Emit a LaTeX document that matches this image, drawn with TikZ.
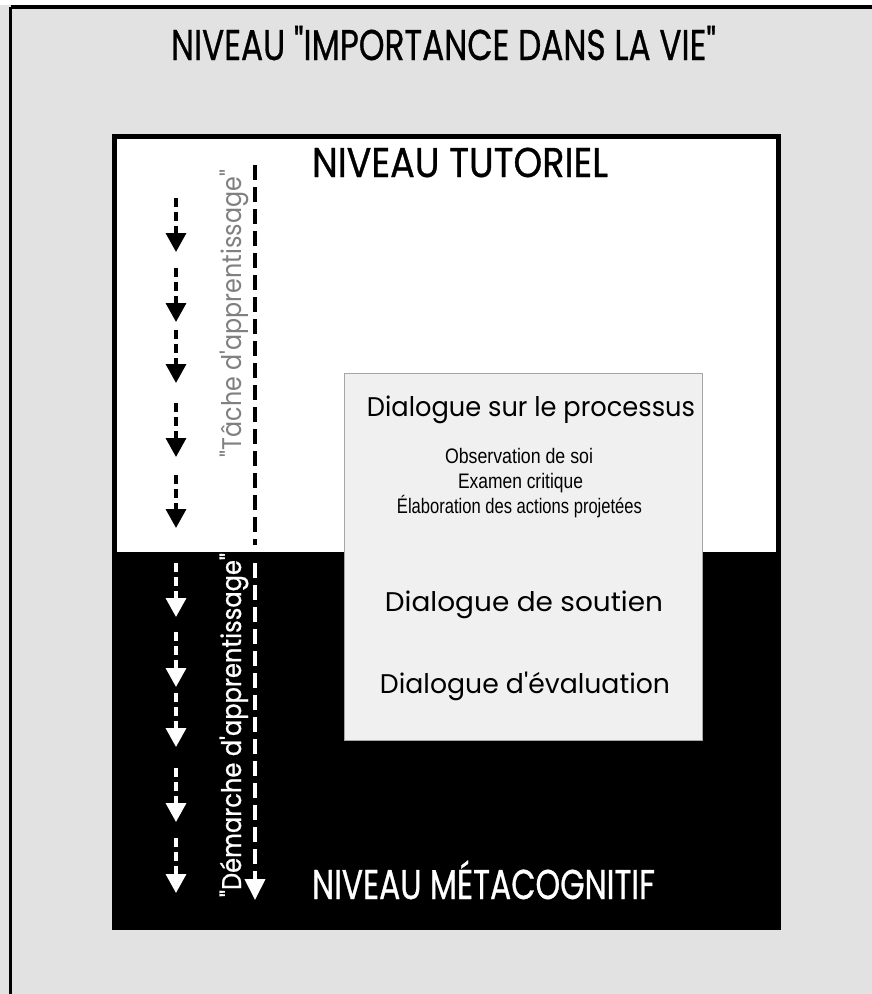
\documentclass[tikz,border=0pt]{standalone}
\usepackage{fontspec}
\usepackage{graphicx}
\usetikzlibrary{arrows.meta}
\newfontfamily\geo{Poppins}
\newfontfamily\geob[FakeBold=0.9]{Poppins}
\newfontfamily\nar{Liberation Sans}
\definecolor{bggray}{HTML}{E2E2E2}
\definecolor{boxgray}{HTML}{F0F0F0}
\definecolor{txtgray}{HTML}{808080}
\newcommand{\fitw}[3]{\resizebox{#1}{\height}{\fontsize{#2}{#2}\selectfont #3}}
\tikzset{
  lbl/.style={inner sep=0pt, outer sep=0pt, anchor=base},
  smallarrow/.style={line width=3.5pt, dash pattern=on 9pt off 5pt, -{Triangle[width=20pt,length=19pt]}},
  longdash/.style={line width=4pt, dash pattern=on 15pt off 7pt},
}
\begin{document}
\begin{tikzpicture}[x=1pt,y=-1pt]
\useasboundingbox (0,0) rectangle (872,994);
% background
\fill[bggray] (0,0) rectangle (872,994);
\fill[white] (0,0) rectangle (872,5);
\draw[line width=4pt] (10.5,7) -- (872,7);
\draw[line width=3.5pt] (10.5,7) -- (10.5,994);
% inner box
\fill[white] (112,134) rectangle (781,552);
\fill[black] (112,552) rectangle (781,930);
\draw[line width=5pt] (114.5,136.5) rectangle (778.5,927.5);
% light box
\fill[boxgray, draw=black!35, line width=0.8pt] (344,373) rectangle (702,740);

% titles
\node[lbl] (title) at (443.5,60) {\fitw{545pt}{43}{\geob NIVEAU "IMPORTANCE DANS LA VIE"}};
\node[lbl] (tut) at (460,177) {\fitw{296pt}{41.6}{\geob NIVEAU TUTORIEL}};
\node[lbl, text=white] (meta) at (483.5,899) {\fitw{343pt}{41.6}{\geob NIVEAU MÉTACOGNITIF}};

% dialogues
\node[lbl] (proc) at (531,416) {\fitw{328pt}{27}{\geo Dialogue sur le processus}};
\node[lbl] (obs) at (519,463) {\fitw{148pt}{21}{\nar Observation de soi}};
\node[lbl] (exa) at (520.5,488) {\fitw{125pt}{21}{\nar Examen critique}};
\node[lbl] (ela) at (519.5,513) {\fitw{245pt}{21}{\nar Élaboration des actions projetées}};
\node[lbl] (sout) at (524,611) {\fitw{278pt}{27}{\geo Dialogue de soutien}};
\node[lbl] (eval) at (525,693) {\fitw{290pt}{27}{\geo Dialogue d'évaluation}};

% rotated labels
\node[lbl, rotate=90, text=txtgray] (tache) at (241,313.5) {\fitw{287pt}{27}{\geo "Tâche d'apprentissage"}};
\node[lbl, rotate=90, text=white] (demar) at (241,725) {\fitw{344pt}{27}{\geob "Démarche d'apprentissage"}};

% small arrows
\foreach \i/\s/\e in {1/198/252, 2/268/322, 3/330/383, 4/403/457, 5/475/528} {
  \coordinate (bs\i) at (176,\s);
  \coordinate (be\i) at (176,\e);
  \draw[smallarrow, black] (bs\i) -- (be\i);
}
\foreach \i/\s/\e in {1/563/617, 2/632/687, 3/693/747, 4/768/822, 5/838/893} {
  \coordinate (ws\i) at (176,\s);
  \coordinate (we\i) at (176,\e);
  \draw[smallarrow, white] (ws\i) -- (we\i);
}
% long dashed line
\coordinate (ltop) at (255,165);
\coordinate (lmid) at (255,545);
\coordinate (lstart) at (255,563);
\coordinate (lend) at (255,900);
\draw[longdash, black] (ltop) -- (lmid);
\draw[longdash, white, -{Triangle[width=20pt,length=21pt]}] (lstart) -- (lend);
\end{tikzpicture}
\end{document}
